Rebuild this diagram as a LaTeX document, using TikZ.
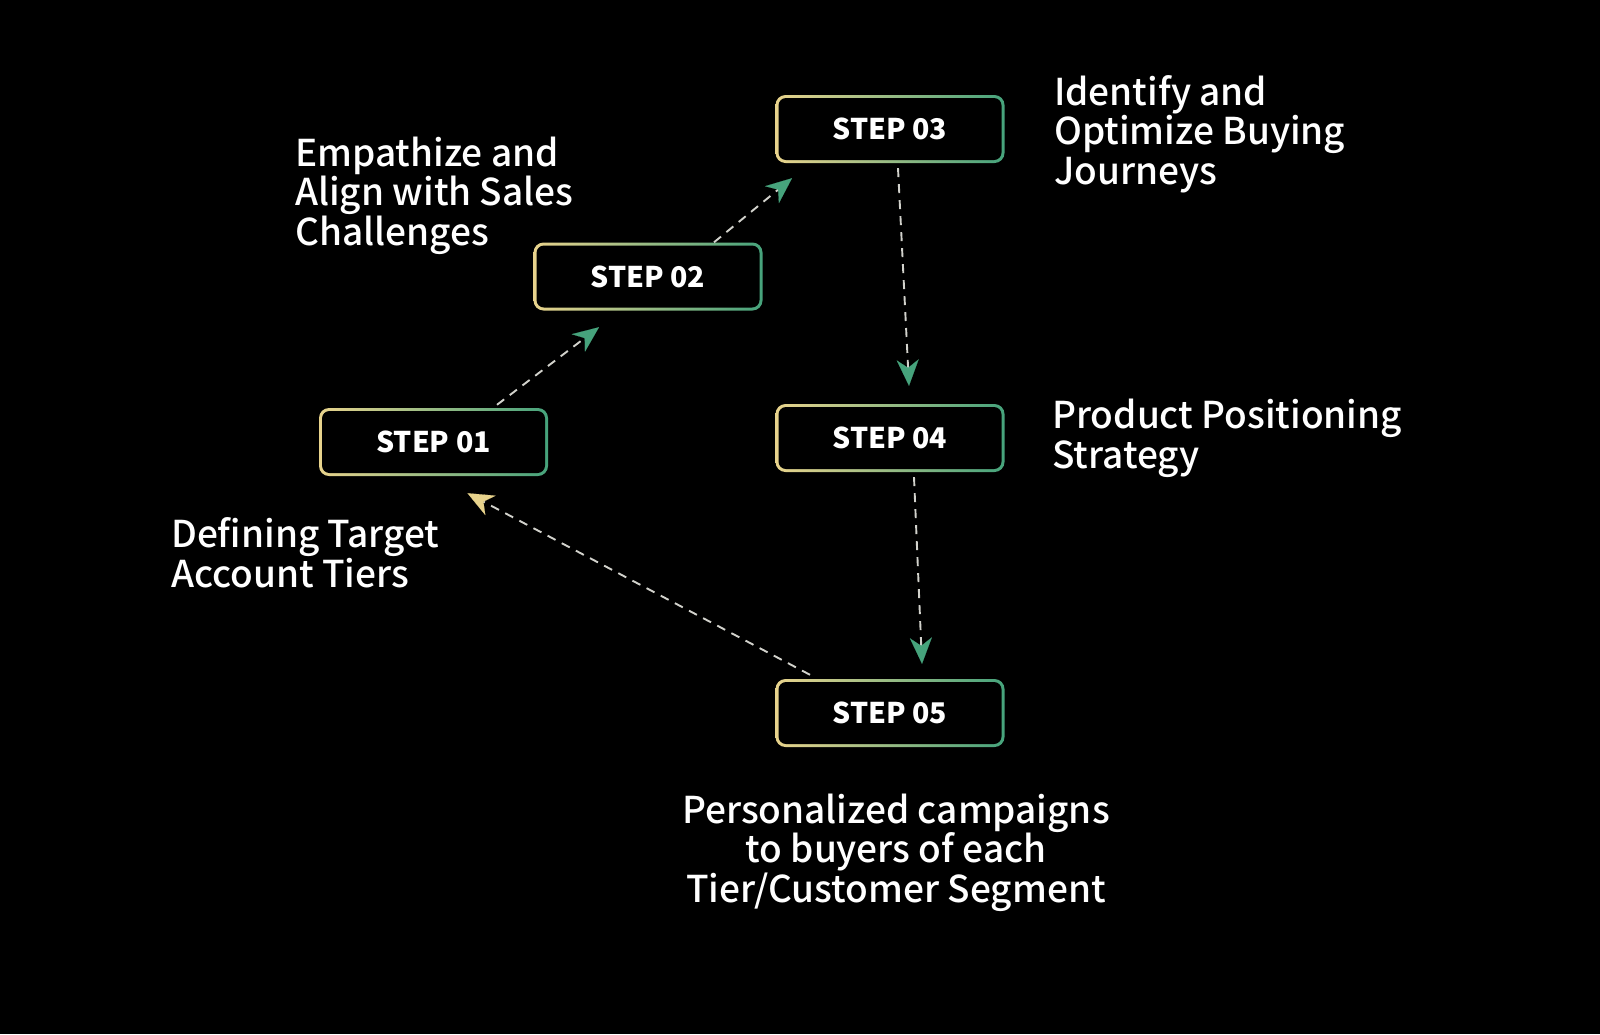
\documentclass[tikz,border=0pt]{standalone}
\usepackage{fontspec}
\setmainfont{Noto Sans CJK SC}
\newfontfamily\descfont{Noto Sans CJK SC Medium}
\newfontfamily\stepfont{Noto Sans CJK SC Black}
\usetikzlibrary{arrows.meta}
\definecolor{bya}{HTML}{E8D38C}
\definecolor{bgr}{HTML}{46A37C}
\definecolor{dashc}{HTML}{D2D2CC}
\tikzset{
  stepbox/.style={minimum width=229pt, minimum height=68pt, inner sep=0pt,
    rounded corners=10pt, left color=bya, right color=bgr,
    path picture={\fill[black, rounded corners=7.5pt]
      ([shift={(3pt,3pt)}]path picture bounding box.south west) rectangle
      ([shift={(-3pt,-3pt)}]path picture bounding box.north east);},
    text=white, font=\fontsize{28.5}{32}\selectfont\stepfont},
  desc/.style={text=white, font=\fontsize{37}{39.5}\selectfont\descfont, inner sep=0pt},
  conn/.style={dashc, line width=1.9pt, dash pattern=on 9pt off 7pt,
    -{Stealth[length=26pt, width=22pt, inset=8pt, color=#1, fill=#1, line width=0.1pt]}},
}
\begin{document}
\begin{tikzpicture}[x=1pt,y=1pt]
\fill[black] (0,0) rectangle (1600,-1034);
\useasboundingbox (0,0) rectangle (1600,-1034);

\node[stepbox] (s1) at (433.5,-442) {STEP 01};
\node[stepbox] (s2) at (648,-276.5) {STEP 02};
\node[stepbox] (s3) at (890,-129) {STEP 03};
\node[stepbox] (s4) at (890,-438) {STEP 04};
\node[stepbox] (s5) at (890,-713) {STEP 05};

\node[desc, anchor=base west, align=left] (d2) at (295,-245) {Empathize and\\Align with Sales\\Challenges};
\node[desc, anchor=base west, align=left] (d3) at (1054,-184) {Identify and\\Optimize Buying\\Journeys};
\node[desc, anchor=base west, align=left] (d4) at (1052,-468) {Product Positioning\\Strategy};
\node[desc, anchor=base west, align=left] (d1) at (171,-587) {Defining Target\\Account Tiers};
\node[desc, anchor=base, align=center] (d5) at (896,-902) {Personalized campaigns\\to buyers of each\\Tier/Customer Segment};

\draw[conn=bgr] ([xshift=63.5pt,yshift=3pt]s1.north) -- ([xshift=-49pt,yshift=-16.5pt]s2.south);
\draw[conn=bgr] ([xshift=66pt]s2.north) -- ([xshift=-98pt,yshift=-15pt]s3.south);
\draw[conn=bgr] ([xshift=8pt,yshift=-5pt]s3.south) -- ([xshift=19pt,yshift=18pt]s4.north);
\draw[conn=bgr] ([xshift=24pt,yshift=-5pt]s4.south) -- ([xshift=32pt,yshift=15pt]s5.north);
\draw[conn=bya] ([xshift=-80pt,yshift=4pt]s5.north) -- ([xshift=34pt,yshift=-17pt]s1.south);
\end{tikzpicture}
\end{document}
